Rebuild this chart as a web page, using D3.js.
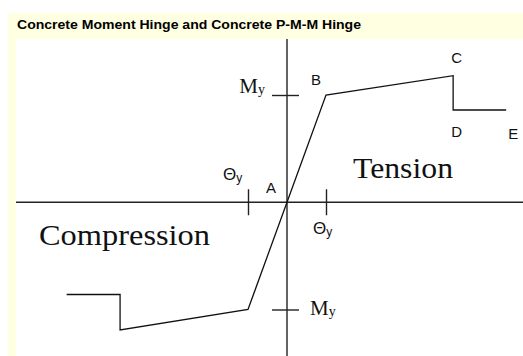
<!DOCTYPE html>
<html>
<head>
<meta charset="utf-8">
<script src="https://cdn.jsdelivr.net/npm/d3@7"></script>
<style>
  body { margin: 0; background: #fff; }
  svg { display: block; }
</style>
</head>
<body>
<script>
// backbone curve, rotation in units of θy and moment in units of My
const rotation = [-5.65, -4.28, -4.28, -1, 0, 1, 4.26, 4.26, 5.62];
const moment   = [-0.86, -0.86, -1.19, -1, 0, 1, 1.18, 0.86, 0.86];

// named points A..E
const pointNames = ['A', 'B', 'C', 'D', 'E'];
const pointIndex = [4, 5, 6, 7, 8];

const xTicks = [-1, 1];   // ±θy
const yTicks = [-1, 1];   // ±My

const title = 'Concrete Moment Hinge and Concrete P-M-M Hinge';

const width = 523, height = 356;

const svg = d3.select('body').append('svg')
    .attr('width', width)
    .attr('height', height);

// panel backgrounds
svg.append('rect')
    .attr('x', 8).attr('y', 13)
    .attr('width', width - 8).attr('height', height - 13)
    .attr('fill', '#ffffe1');

svg.append('rect')
    .attr('x', 16).attr('y', 39)
    .attr('width', width - 16).attr('height', height - 39)
    .attr('fill', '#fff');

svg.append('text')
    .attr('x', 17).attr('y', 29)
    .attr('font-family', 'Liberation Sans, Arial, sans-serif')
    .attr('font-weight', 'bold')
    .attr('font-size', 13)
    .attr('textLength', 344)
    .attr('lengthAdjust', 'spacingAndGlyphs')
    .text(title);

// scales: one θy = 39px, one My = 107px
const x = d3.scaleLinear().domain([-1, 1]).range([248, 326]);
const y = d3.scaleLinear().domain([-1, 1]).range([309.5, 95]);

const x0 = x(0), y0 = y(0);

// horizontal axis
const xAxis = svg.append('g')
    .attr('transform', 'translate(0,' + y0 + ')')
    .call(d3.axisBottom(x).tickValues(xTicks).tickSize(0).tickFormat(''));
xAxis.select('.domain')
    .attr('d', 'M16,0H' + width);
xAxis.selectAll('.tick line').attr('y1', -13).attr('y2', 13);

// vertical axis
const yAxis = svg.append('g')
    .attr('transform', 'translate(' + x0 + ',0)')
    .call(d3.axisLeft(y).tickValues(yTicks).tickSize(0).tickFormat(''));
yAxis.select('.domain')
    .attr('d', 'M0,39V' + height);
yAxis.selectAll('.tick line').attr('x1', -15).attr('x2', 12);

svg.selectAll('.domain, .tick line')
    .attr('stroke', '#222')
    .attr('stroke-width', 1.4);

// backbone curve
const pts = rotation.map((r, i) => [r, moment[i]]);
svg.append('path')
    .datum(pts)
    .attr('fill', 'none')
    .attr('stroke', '#111')
    .attr('stroke-width', 1.3)
    .attr('d', d3.line().x(d => x(d[0])).y(d => y(d[1])));

// point letters
const letterOffset = {
    A: [-21, -9], B: [-15, -10], C: [-2, -13], D: [-2, 27], E: [2, 29]
};
svg.append('g')
    .selectAll('text')
    .data(pointNames)
    .join('text')
    .attr('x', (d, i) => x(rotation[pointIndex[i]]) + letterOffset[d][0])
    .attr('y', (d, i) => y(moment[pointIndex[i]]) + letterOffset[d][1])
    .attr('font-family', 'Liberation Sans Narrow, Liberation Sans, Arial, sans-serif')
    .attr('font-size', 15)
    .attr('fill', '#111')
    .text(d => d);

// My labels
function myLabel(px, py, anchor) {
    const t = svg.append('text')
        .attr('x', px).attr('y', py)
        .attr('text-anchor', anchor)
        .attr('font-family', 'Liberation Serif, Times New Roman, serif')
        .attr('font-size', 21)
        .attr('fill', '#111');
    t.append('tspan').text('M');
    t.append('tspan').attr('font-size', 14).attr('dy', 1).text('y');
}
myLabel(265, y(1) - 2, 'end');
myLabel(310, y(-1) + 5, 'start');

// θy labels
function thetaLabel(px, py) {
    const t = svg.append('text')
        .attr('x', px).attr('y', py)
        .attr('font-family', 'Liberation Sans, Arial, sans-serif')
        .attr('font-size', 17)
        .attr('fill', '#111');
    t.append('tspan').text('Θ');
    t.append('tspan').attr('font-size', 12).attr('dy', 2).text('y');
}
thetaLabel(223, 180);
thetaLabel(313, 234);

// region labels
svg.append('text')
    .attr('x', 353).attr('y', 178)
    .attr('font-family', 'Liberation Serif, Times New Roman, serif')
    .attr('font-size', 29)
    .attr('textLength', 100)
    .attr('lengthAdjust', 'spacingAndGlyphs')
    .attr('fill', '#111')
    .text('Tension');

svg.append('text')
    .attr('x', 39).attr('y', 245)
    .attr('font-family', 'Liberation Serif, Times New Roman, serif')
    .attr('font-size', 29)
    .attr('textLength', 171)
    .attr('lengthAdjust', 'spacingAndGlyphs')
    .attr('fill', '#111')
    .text('Compression');
</script>
</body>
</html>
